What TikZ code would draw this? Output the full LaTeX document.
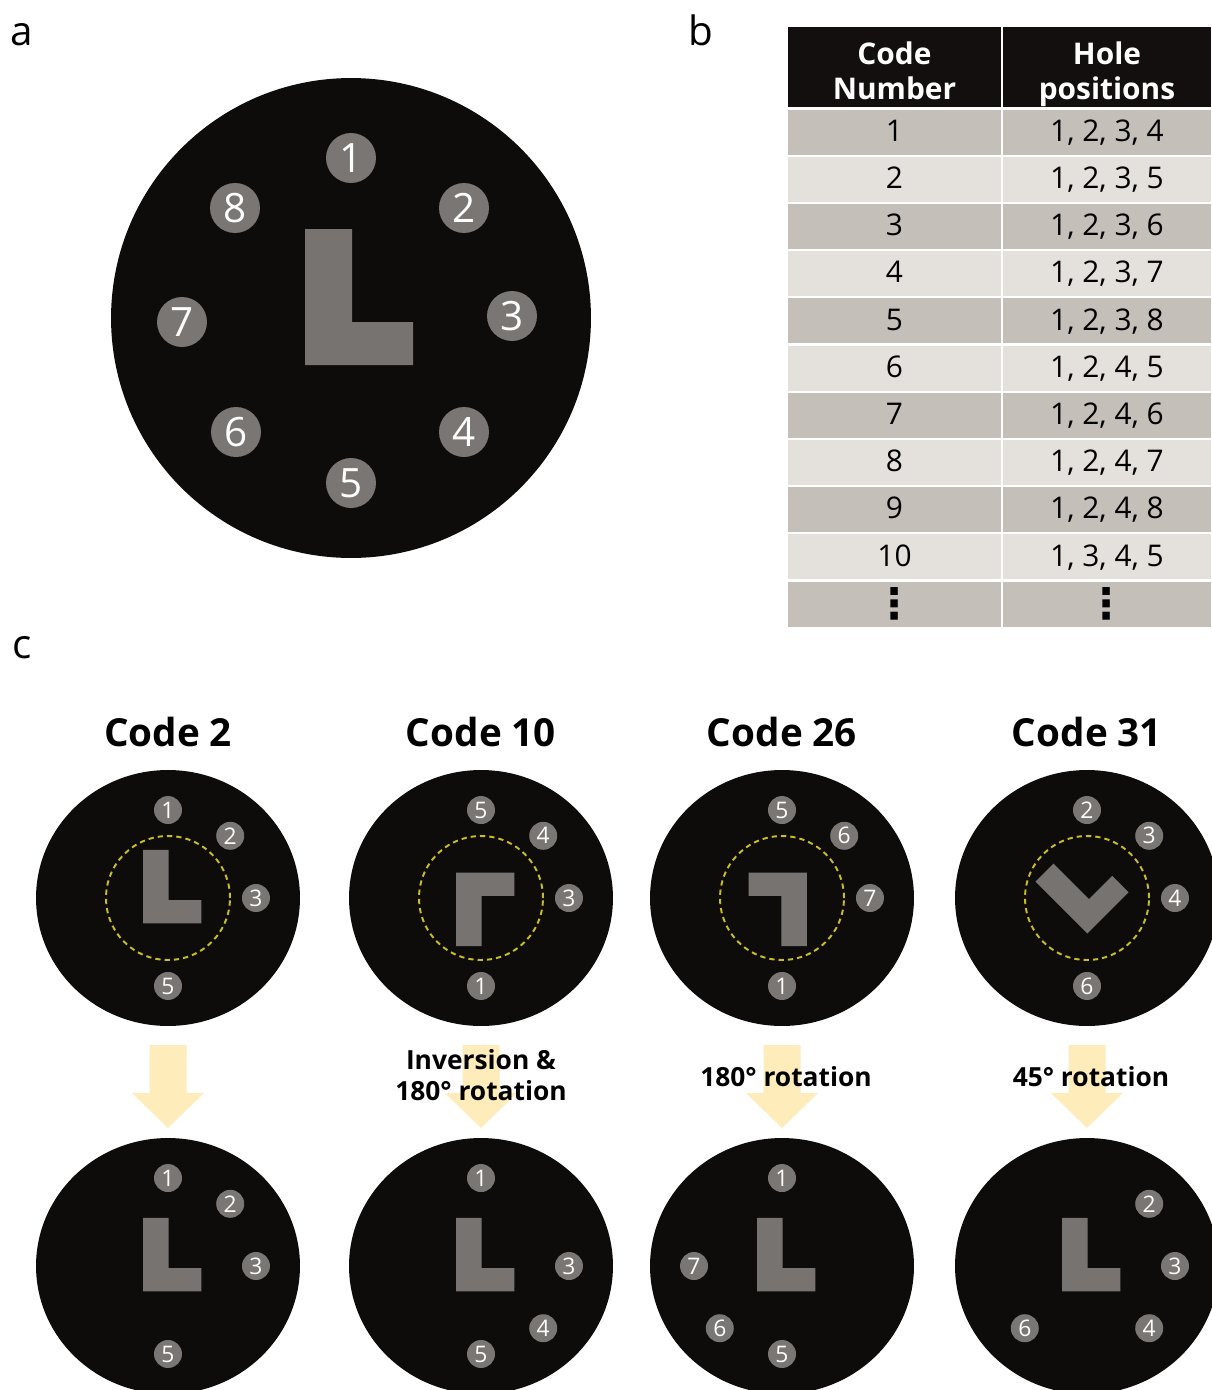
\documentclass[tikz,border=0pt]{standalone}
\usepackage{fontspec}
\setmainfont{Open Sans}
\newfontfamily\symfont{DejaVu Sans}
\usepackage{tikz}
\usetikzlibrary{calc}
\usepackage{xcolor}
\definecolor{disc-black}{RGB}{14,12,11}
\definecolor{hole-gray}{RGB}{122,118,115}
\definecolor{key-gray}{RGB}{119,115,112}
\definecolor{head-black}{RGB}{18,15,14}
\definecolor{row-dark}{RGB}{196,191,185}
\definecolor{row-light}{RGB}{228,224,220}
\definecolor{guide-yellow}{RGB}{200,190,35}
\definecolor{arrow-yellow}{RGB}{254,236,186}

\begin{document}
\begin{tikzpicture}[
  x=0.02cm, y=-0.02cm,
  % Disc and hole styles
  disc/.style      = {fill=disc-black},
  bighole/.style   = {circle, fill=hole-gray, text=white, minimum size=1cm,
                      inner sep=0pt, font=\fontsize{23}{23}\selectfont},
  hole/.style      = {circle, fill=hole-gray, text=white, minimum size=0.56cm,
                      inner sep=0pt, font=\fontsize{13}{13}\selectfont},
  key/.style       = {fill=key-gray},
  guide/.style     = {draw=guide-yellow, line width=1.1pt,
                      dash pattern=on 3pt off 2.3pt},
  keyL/.pic        = {\fill[key] (-46,-89) -- (1,-89) -- (1,4) -- (62,4)
                      -- (62,47) -- (-46,47) -- cycle;},
  % Table styles
  headcell/.style  = {fill=head-black, text=white, align=center,
                      minimum height=1.56cm, inner sep=0pt, outer sep=0pt,
                      font=\bfseries\fontsize{17}{20}\selectfont},
  dotcell/.style   = {fill=row-dark, minimum height=0.9cm, inner sep=0pt,
                      outer sep=0pt, font=\symfont\bfseries\fontsize{24}{24}\selectfont},
  cell/.style      = {minimum height=0.9cm, inner sep=0pt, outer sep=0pt,
                      text height=1.05em, text depth=0pt,
                      font=\fontsize{17}{20}\selectfont},
  % Text styles
  panellabel/.style = {anchor=base, font=\fontsize{23}{27}\selectfont},
  title/.style      = {anchor=base, font=\bfseries\fontsize{22}{26}\selectfont},
  steplabel/.style  = {align=center, font=\bfseries\fontsize{15}{17.6}\selectfont},
  flowarrow/.style  = {fill=arrow-yellow},
]

\useasboundingbox (0,0) rectangle (1211,1390);
\fill[white] (0,0) rectangle (1211,1390);

% ── Panel a ────────────────────────────────────────────────────────────────────
\node[panellabel] (lbl-a) at (22,45) {a};

\fill[disc] (351,318) circle[radius=4.8cm];
\coordinate (big) at (351,318);
\pic at (big) {keyL};
\foreach \n/\hx/\hy in {1/351/158, 2/464/208, 3/512/316, 4/464/432,
                        5/351/483, 6/236/432, 7/182/322, 8/235/208}
  \node[bighole] (big-h\n) at (\hx,\hy) {\n};

% ── Panel b ────────────────────────────────────────────────────────────────────
\node[panellabel] (lbl-b) at (701,45) {b};

\node[headcell, minimum width=4.26cm] (head-code) at (894.5,67)
  {\rule{0pt}{1.25em}Code\\Number\vphantom{p}};
\node[headcell, minimum width=4.16cm] (head-holes) at (1107,67)
  {\rule{0pt}{1.25em}Hole\\positions};

\foreach \i/\p/\rowfill/\ry in {
    1/{1, 2, 3, 4}/row-dark/132,    2/{1, 2, 3, 5}/row-light/179.2,
    3/{1, 2, 3, 6}/row-dark/226.4,  4/{1, 2, 3, 7}/row-light/273.6,
    5/{1, 2, 3, 8}/row-dark/320.8,  6/{1, 2, 4, 5}/row-light/368,
    7/{1, 2, 4, 6}/row-dark/415.2,  8/{1, 2, 4, 7}/row-light/462.4,
    9/{1, 2, 4, 8}/row-dark/509.6, 10/{1, 3, 4, 5}/row-light/556.8} {
  \node[cell, fill=\rowfill, minimum width=4.26cm] (num-\i) at (894.5,\ry) {\i};
  \node[cell, fill=\rowfill, minimum width=4.16cm] (pos-\i) at (1107,\ry) {\p};
}

\node[dotcell, minimum width=4.26cm] (num-more) at (894.5,604) {⋮};
\node[dotcell, minimum width=4.16cm] (pos-more) at (1107,604) {⋮};

% ── Panel c ────────────────────────────────────────────────────────────────────
\node[panellabel] (lbl-c) at (22,658) {c};

\foreach \cx/\nm/\code in {168/two/2, 481/ten/10, 782/twentysix/26, 1087/thirtyone/31} {
  \node[title] (title-\nm) at (\cx,746) {Code \code};
  \fill[disc] (\cx,898) ellipse[x radius=2.64cm, y radius=2.56cm];
  \fill[disc] (\cx,1266) ellipse[x radius=2.64cm, y radius=2.56cm];
  \coordinate (top-\nm) at (\cx,898);
  \coordinate (bot-\nm) at (\cx,1266);
  \draw[guide] (top-\nm) circle[radius=1.24cm];
  \pic[scale=0.54] at (bot-\nm) {keyL};
  % down arrow
  \fill[flowarrow] ([shift={(-18.5,147)}]top-\nm) -- ++(37,0) -- ++(0,48)
    -- ++(17.5,0) -- ([shift={(0,-138)}]bot-\nm) -- ++(-36,-35)
    -- ++(17.5,0) -- cycle;
}

% keys before alignment
\pic[scale=0.54] at (top-two) {keyL};
\pic[scale=0.54, yscale=-1] at (top-ten) {keyL};
\pic[scale=0.54, rotate=180] at (top-twentysix) {keyL};
\pic[scale=0.54, rotate=45] at (top-thirtyone) {keyL};

% holes
\foreach \nm/\holes in {
    top-two/{1/90, 2/45, 3/0, 5/-90},
    top-ten/{5/90, 4/45, 3/0, 1/-90},
    top-twentysix/{5/90, 6/45, 7/0, 1/-90},
    top-thirtyone/{2/90, 3/45, 4/0, 6/-90},
    bot-two/{1/90, 2/45, 3/0, 5/-90},
    bot-ten/{1/90, 3/0, 4/-45, 5/-90},
    bot-twentysix/{1/90, 7/180, 6/-135, 5/-90},
    bot-thirtyone/{2/45, 3/0, 4/-45, 6/-135}}
  \foreach \n/\a in \holes
    \node[hole] (\nm-h\n) at ([shift={(\a:1.76cm)}]\nm) {\n};

% step labels
\node[steplabel] (step-ten) at (481,1075) {Inversion \&\\180° rotation};
\node[steplabel] (step-twentysix) at (786,1077) {180° rotation};
\node[steplabel] (step-thirtyone) at (1091,1077) {45° rotation};

\end{tikzpicture}
\end{document}
